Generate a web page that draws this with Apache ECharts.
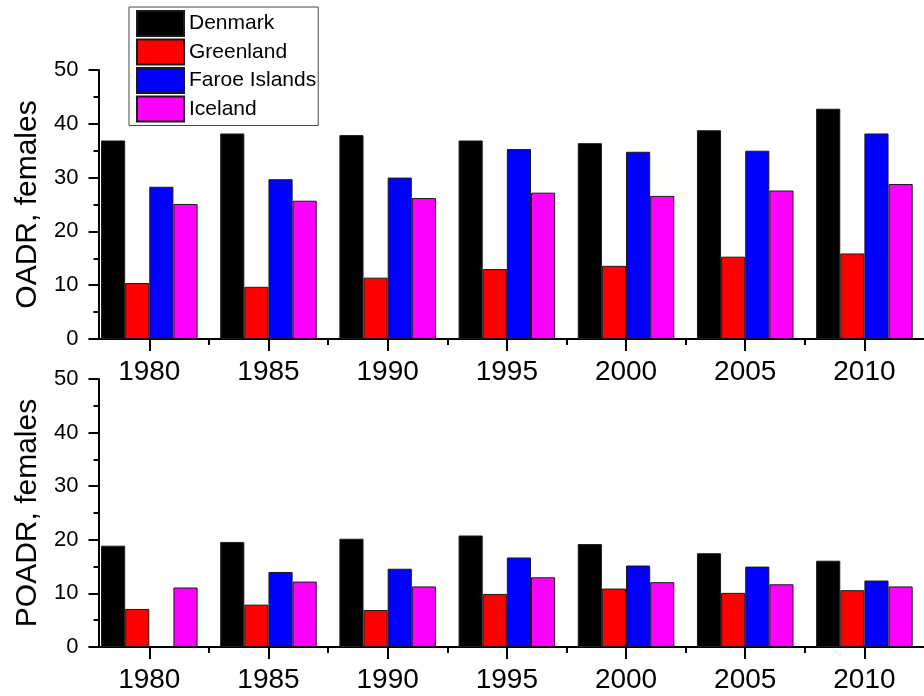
<!DOCTYPE html>
<html>
<head>
<meta charset="utf-8">
<script src="https://cdn.jsdelivr.net/npm/echarts@6/dist/echarts.min.js"></script>
<style>
  html, body { margin: 0; padding: 0; background: #ffffff; }
  #chart { width: 924px; height: 696px; }
</style>
</head>
<body>
<div id="chart"></div>
<script>
// Census years on the category axis
const years = ['1980', '1985', '1990', '1995', '2000', '2005', '2010'];
const countries = ['Denmark', 'Greenland', 'Faroe Islands', 'Iceland'];
const countryColors = ['#000000', '#ff0000', '#0000ff', '#ff00ff'];
const yTicks = [0, 10, 20, 30, 40, 50];

// Old-age dependency ratio, females
const oadrDenmark  = [36.9, 38.2, 37.9, 36.9, 36.4, 38.8, 42.8];
const oadrGreenland = [10.4, 9.7, 11.4, 13.0, 13.6, 15.3, 15.9];
const oadrFaroe    = [28.3, 29.7, 30.0, 35.3, 34.8, 35.0, 38.2];
const oadrIceland  = [25.1, 25.7, 26.2, 27.2, 26.6, 27.6, 28.8];

// Prospective old-age dependency ratio, females
const poadrDenmark  = [18.9, 19.6, 20.2, 20.8, 19.2, 17.5, 16.1];
const poadrGreenland = [7.1, 7.9, 6.9, 9.9, 10.9, 10.1, 10.6];
const poadrFaroe    = [null, 14.0, 14.6, 16.7, 15.2, 15.0, 12.4];
const poadrIceland  = [11.1, 12.2, 11.3, 13.0, 12.1, 11.7, 11.3];

const panels = [
  { title: 'OADR, females',  values: [oadrDenmark, oadrGreenland, oadrFaroe, oadrIceland], top: 70,  height: 269 },
  { title: 'POADR, females', values: [poadrDenmark, poadrGreenland, poadrFaroe, poadrIceland], top: 379, height: 268 }
];

const FONT = 'Liberation Sans, Arial, sans-serif';
const gridLeft = 89.7;
const gridWidth = 844.6;
const yAxisX = 98.5;

const grids = [], xAxes = [], yAxes = [], series = [];

panels.forEach((p, gi) => {
  grids.push({ left: gridLeft, width: gridWidth, top: p.top, height: p.height, containLabel: false });

  // main category axis: labels and major ticks at group centres
  xAxes.push({
    type: 'category', gridIndex: gi, position: 'bottom', data: years, boundaryGap: true,
    axisLine: { show: true, lineStyle: { color: '#000', width: 2 } },
    axisTick: { show: true, alignWithLabel: true, length: 12, lineStyle: { color: '#000', width: 2 } },
    axisLabel: { fontSize: 28, color: '#000', fontFamily: FONT, margin: 19 },
    splitLine: { show: false }
  });
  // helper axis: short ticks on the boundaries between year groups
  xAxes.push({
    type: 'value', gridIndex: gi, position: 'bottom', min: 0, max: years.length, interval: 1,
    axisLine: { show: false },
    axisTick: { show: true, length: 6, customValues: [1, 2, 3, 4, 5, 6], lineStyle: { color: '#000', width: 2 } },
    axisLabel: { show: false },
    splitLine: { show: false }
  });

  yAxes.push({
    type: 'value', gridIndex: gi, min: yTicks[0], max: yTicks[yTicks.length - 1], interval: 10,
    offset: gridLeft - yAxisX,
    axisLine: { show: true, lineStyle: { color: '#000', width: 2 } },
    axisTick: { show: true, length: 10, lineStyle: { color: '#000', width: 2 } },
    minorTick: { show: true, splitNumber: 2, length: 5, lineStyle: { color: '#000', width: 2 } },
    axisLabel: { fontSize: 22, color: '#000', fontFamily: FONT, margin: 20 },
    splitLine: { show: false },
    name: p.title, nameLocation: 'middle', nameGap: 56,
    nameTextStyle: { fontSize: 30, color: '#000', fontFamily: FONT }
  });

  countries.forEach((c, si) => {
    series.push({
      name: c, type: 'bar', xAxisIndex: gi * 2, yAxisIndex: gi,
      data: p.values[si],
      barGap: '0%', barCategoryGap: '19%',
      itemStyle: { color: countryColors[si], borderColor: '#1a1a1a', borderWidth: 1 },
      emphasis: { disabled: true }
    });
  });
});

const chart = echarts.init(document.getElementById('chart'), null, { renderer: 'canvas' });
chart.setOption({
  animation: false,
  backgroundColor: '#ffffff',
  grid: grids,
  xAxis: xAxes,
  yAxis: yAxes,
  legend: {
    data: countries, orient: 'vertical', left: 129, top: 7,
    padding: [3, 2, 3, 7], itemWidth: 47, itemHeight: 25, itemGap: 1.5,
    icon: 'rect', borderColor: '#444', borderWidth: 1,
    textStyle: { fontSize: 21, color: '#000', fontFamily: FONT },
    selectedMode: false
  },
  series: series
});
</script>
</body>
</html>
